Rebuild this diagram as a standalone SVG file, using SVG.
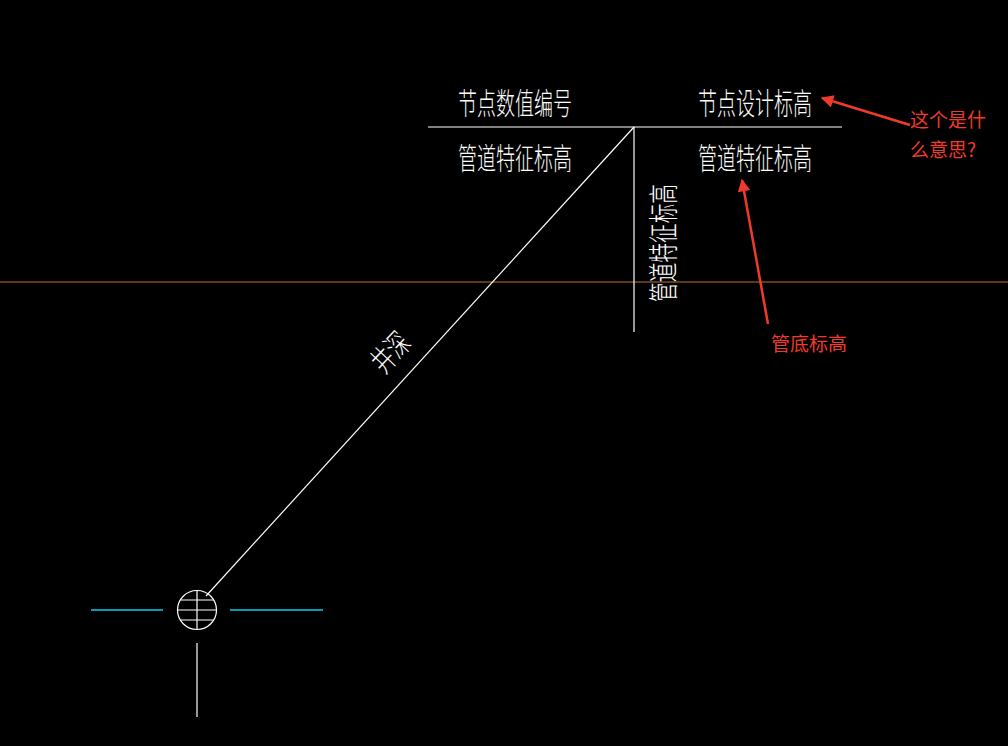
<svg xmlns="http://www.w3.org/2000/svg" width="1008" height="746" viewBox="0 0 1008 746">
<style>
.w{stroke:#fff;stroke-width:1.2;fill:none}
.c{stroke:#00d0f0;stroke-width:1.3}
.t{fill:#fff;font-family:"Noto Sans CJK SC",sans-serif;font-size:30px;font-weight:300}
.r{fill:#f03a2a;font-family:"Noto Sans CJK SC",sans-serif;font-size:19px}
.ra{stroke:#f03a2a;stroke-width:2.5;fill:none}
</style>
<defs><marker id="ah" viewBox="0 0 10 10" refX="9" refY="5" markerWidth="6" markerHeight="5" orient="auto" markerUnits="strokeWidth"><path d="M0,0 L10,5 L0,10 z" fill="#f03a2a"/></marker></defs>
<rect width="1008" height="746" fill="#000"/>
<line x1="0" y1="282" x2="1008" y2="282" stroke="#b8781e" stroke-width="1"/>
<g id="connectors">
<line class="w" x1="206" y1="596" x2="634" y2="127"/>
<line class="w" x1="428" y1="127" x2="842" y2="127"/>
<line class="w" x1="634" y1="127" x2="634" y2="332"/>
<line class="ra" x1="910" y1="125" x2="822" y2="98" marker-end="url(#ah)"/>
<line class="ra" x1="768" y1="324" x2="742" y2="180" marker-end="url(#ah)"/>
</g>
<g id="well">
<circle class="w" cx="197" cy="610" r="19.5"/>
<line class="w" x1="197" y1="590" x2="197" y2="630"/>
<line class="w" x1="180" y1="600" x2="214" y2="600"/>
<line class="w" x1="178" y1="610" x2="216" y2="610"/>
<line class="w" x1="180" y1="620" x2="214" y2="620"/>
<line class="c" x1="91" y1="610" x2="163" y2="610"/>
<line class="c" x1="230" y1="610" x2="323" y2="610"/>
<line class="w" x1="197" y1="643" x2="197" y2="717"/>
</g>
<g id="labels">
<text class="t" x="458" y="114" textLength="114" lengthAdjust="spacingAndGlyphs">节点数值编号</text>
<text class="t" x="698" y="114" textLength="114" lengthAdjust="spacingAndGlyphs">节点设计标高</text>
<text class="t" x="458" y="169" textLength="114" lengthAdjust="spacingAndGlyphs">管道特征标高</text>
<text class="t" x="698" y="169" textLength="114" lengthAdjust="spacingAndGlyphs">管道特征标高</text>
<text class="t" transform="translate(674,302) rotate(-90)" textLength="118" lengthAdjust="spacingAndGlyphs">管道特征标高</text>
<text class="t" transform="translate(384,375) rotate(-47)" textLength="42" lengthAdjust="spacingAndGlyphs">井深</text>
</g>
<g id="notes">
<text class="r" x="910" y="127">这个是什</text>
<text class="r" x="910" y="157">么意思?</text>
<text class="r" x="771" y="351">管底标高</text>
</g>
</svg>
